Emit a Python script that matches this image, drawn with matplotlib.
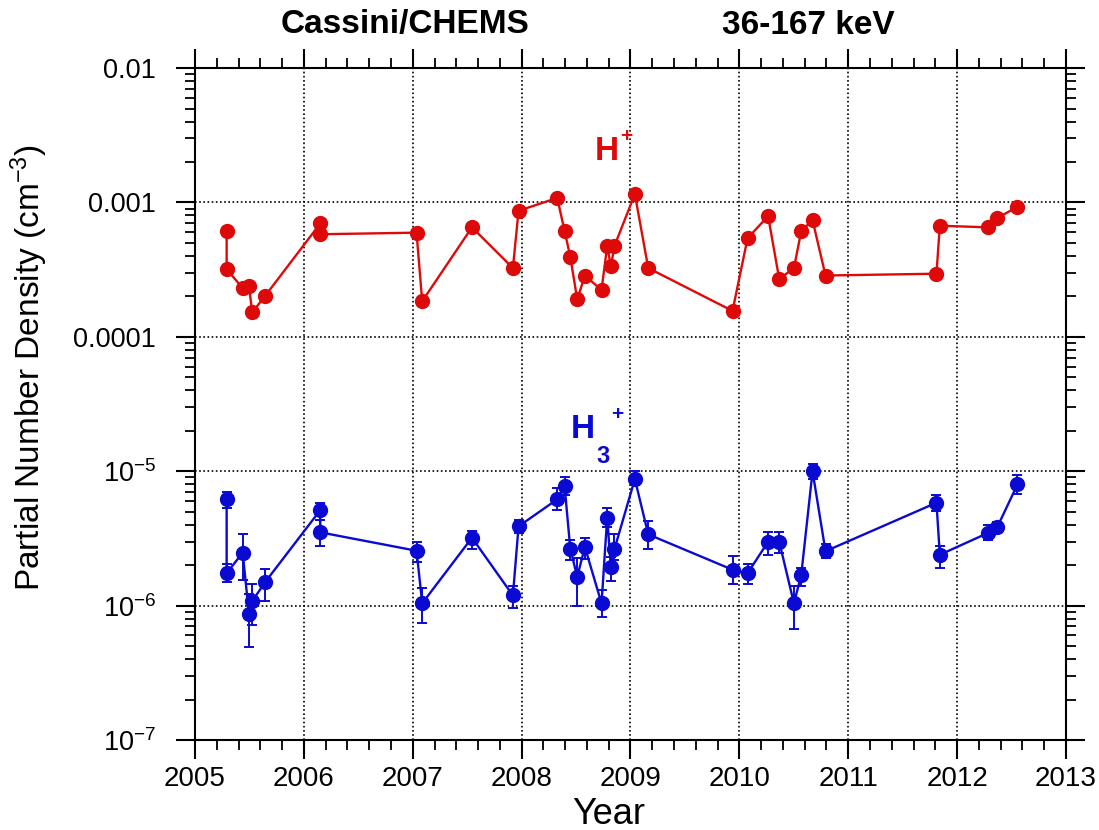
import numpy as np
import matplotlib
matplotlib.use("Agg")
import matplotlib.pyplot as plt
from matplotlib.ticker import FixedLocator, FixedFormatter, MultipleLocator, LogLocator, NullFormatter

plt.rcParams['font.family'] = ['Liberation Sans', 'DejaVu Sans']
plt.rcParams['mathtext.fontset'] = 'custom'
plt.rcParams['mathtext.rm'] = 'Liberation Sans'

# decimal year of each sample (shared by both species)
years = [2005.291, 2005.291, 2005.438, 2005.496, 2005.526, 2005.643,
         2006.151, 2006.151, 2007.035, 2007.087, 2007.544, 2007.920,
         2007.972, 2008.327, 2008.395, 2008.447, 2008.511, 2008.581,
         2008.734, 2008.786, 2008.820, 2008.853, 2009.040, 2009.163,
         2009.937, 2010.075, 2010.264, 2010.366, 2010.501, 2010.568,
         2010.672, 2010.791, 2011.810, 2011.841, 2012.285, 2012.370,
         2012.554]

# H+ partial density (cm^-3)
h_dens = [6.12e-4, 3.18e-4, 2.31e-4, 2.39e-4, 1.52e-4, 2.01e-4,
          6.98e-4, 5.80e-4, 5.96e-4, 1.84e-4, 6.53e-4, 3.25e-4,
          8.67e-4, 1.08e-3, 6.12e-4, 3.93e-4, 1.90e-4, 2.86e-4,
          2.23e-4, 4.75e-4, 3.34e-4, 4.75e-4, 1.155e-3, 3.25e-4,
          1.56e-4, 5.41e-4, 7.92e-4, 2.69e-4, 3.25e-4, 6.12e-4,
          7.39e-4, 2.86e-4, 2.95e-4, 6.71e-4, 6.53e-4, 7.66e-4,
          9.29e-4]

# H3+ partial density (cm^-3) with lower/upper error limits
h3_dens = [6.21e-6, 1.74e-6, 2.48e-6, 8.70e-7, 1.08e-6, 1.49e-6,
           5.14e-6, 3.51e-6, 2.56e-6, 1.04e-6, 3.20e-6, 1.19e-6,
           3.89e-6, 6.18e-6, 7.76e-6, 2.64e-6, 1.64e-6, 2.73e-6,
           1.04e-6, 4.51e-6, 1.93e-6, 2.64e-6, 8.75e-6, 3.39e-6,
           1.85e-6, 1.74e-6, 2.99e-6, 2.99e-6, 1.04e-6, 1.69e-6,
           9.98e-6, 2.54e-6, 5.83e-6, 2.39e-6, 3.48e-6, 3.86e-6,
           7.98e-6]
h3_lo = [5.32e-6, 1.49e-6, 1.54e-6, 4.92e-7, 7.21e-7, 1.08e-6,
         4.31e-6, 2.79e-6, 2.12e-6, 7.42e-7, 2.62e-6, 9.55e-7,
         3.45e-6, 5.14e-6, 6.65e-6, 2.18e-6, 9.88e-7, 2.22e-6,
         8.18e-7, 3.86e-6, 1.53e-6, 2.18e-6, 7.89e-6, 2.64e-6,
         1.44e-6, 1.45e-6, 2.39e-6, 2.48e-6, 6.73e-7, 1.40e-6,
         8.75e-6, 2.27e-6, 5.08e-6, 1.91e-6, 3.08e-6, 3.55e-6,
         6.81e-6]
h3_hi = [7.00e-6, 2.04e-6, 3.39e-6, 1.22e-6, 1.44e-6, 1.87e-6,
         5.79e-6, 4.31e-6, 2.99e-6, 1.36e-6, 3.59e-6, 1.40e-6,
         4.34e-6, 7.53e-6, 9.10e-6, 3.08e-6, 2.25e-6, 3.18e-6,
         1.31e-6, 5.30e-6, 2.31e-6, 3.39e-6, 1.01e-5, 4.26e-6,
         2.33e-6, 2.04e-6, 3.53e-6, 3.53e-6, 1.40e-6, 1.91e-6,
         1.13e-5, 2.87e-6, 6.65e-6, 2.76e-6, 3.95e-6, 4.21e-6,
         9.37e-6]

ytick_vals = [1e-7, 1e-6, 1e-5, 1e-4, 1e-3, 1e-2]
ytick_labels = [r'$\mathregular{10^{-7}}$', r'$\mathregular{10^{-6}}$',
                r'$\mathregular{10^{-5}}$', '0.0001', '0.001', '0.01']

RED = '#DE0A0A'
BLUE = '#0A0AD2'

fig = plt.figure(figsize=(10.99, 8.3), dpi=100)
ax = fig.add_axes([0.1774, 0.1084, 0.7926, 0.8096])

yrs = np.array(years)
h3 = np.array(h3_dens)
yerr = [h3 - np.array(h3_lo), np.array(h3_hi) - h3]

ax.plot(yrs, h_dens, '-o', color=RED, lw=1.7, ms=10, zorder=3)
ax.errorbar(yrs, h3, yerr=yerr, fmt='-o', color=BLUE, lw=1.7, ms=10,
            elinewidth=1.4, capsize=3.5, capthick=1.4, zorder=3)

ax.set_yscale('log')
ax.set_xlim(2005, 2013)
ax.set_ylim(1e-7, 1e-2)

ax.xaxis.set_major_locator(MultipleLocator(1))
ax.xaxis.set_minor_locator(MultipleLocator(0.2))
ax.xaxis.set_major_formatter(plt.FuncFormatter(lambda v, p: f'{int(round(v))}'))
ax.yaxis.set_major_locator(FixedLocator(ytick_vals))
ax.yaxis.set_major_formatter(FixedFormatter(ytick_labels))
ax.yaxis.set_minor_locator(LogLocator(base=10, subs=np.arange(2, 10)))
ax.yaxis.set_minor_formatter(NullFormatter())

ax.tick_params(which='both', direction='out', top=True, right=True)
ax.tick_params(which='major', length=14, width=1.5)
ax.tick_params(which='minor', length=7, width=1.3)
ax.tick_params(axis='x', labelsize=20, pad=5)
ax.tick_params(axis='y', labelsize=19.5, pad=14)
for sp in ax.spines.values():
    sp.set_linewidth(1.5)

ax.grid(True, which='major', color='black', ls=(0, (1, 1.5)), lw=1.2)

# axis titles
fig.text(29 / 1099, 1 - 368 / 830, r'Partial Number Density (cm$\mathregular{^{-3}}$)',
         rotation=90, ha='center', va='center', fontsize=24)
fig.text(609 / 1099, 1 - 814 / 830, 'Year', ha='center', va='center', fontsize=26)

# header
fig.text(405 / 1099, 1 - 25 / 830, 'Cassini/CHEMS', ha='center', va='center',
         fontsize=24, fontweight='bold')
fig.text(808 / 1099, 1 - 25 / 830, '36-167 keV', ha='center', va='center',
         fontsize=24, fontweight='bold')

# species labels
def px(x, y):
    return x / 1099, 1 - y / 830

fig.text(*px(607, 152), 'H', color=RED, fontsize=24, fontweight='bold',
         ha='center', va='center')
fig.text(*px(626, 137), '+', color=RED, fontsize=15, fontweight='bold',
         ha='center', va='center')
fig.text(*px(583, 429), 'H', color=BLUE, fontsize=24, fontweight='bold',
         ha='center', va='center')
fig.text(*px(603, 456), '3', color=BLUE, fontsize=17, fontweight='bold',
         ha='center', va='center')
fig.text(*px(617, 414), '+', color=BLUE, fontsize=15, fontweight='bold',
         ha='center', va='center')

fig.savefig('out.png', dpi=100)
